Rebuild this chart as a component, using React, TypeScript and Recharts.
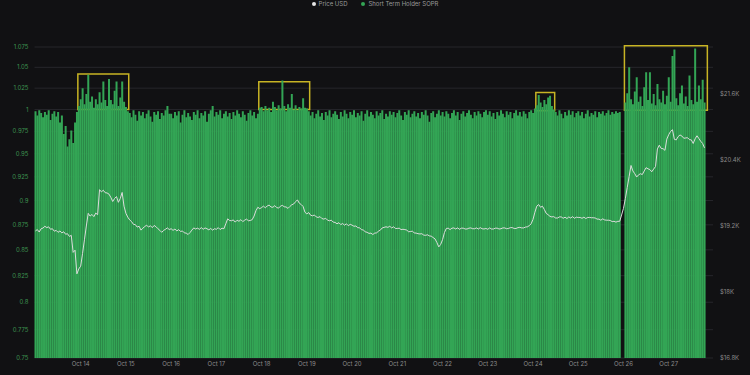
import React from 'react'
import {
  ComposedChart,
  Bar,
  Line,
  XAxis,
  YAxis,
  CartesianGrid,
  ReferenceArea,
} from 'recharts'

// hourly points starting Oct 13 00:00, the axis runs to Oct 28 00:00
const TOTAL_HOURS = 360

const dayTicks = [24, 48, 72, 96, 120, 144, 168, 192, 216, 240, 264, 288, 312, 336]
const dayLabels = [
  'Oct 14', 'Oct 15', 'Oct 16', 'Oct 17', 'Oct 18', 'Oct 19', 'Oct 20',
  'Oct 21', 'Oct 22', 'Oct 23', 'Oct 24', 'Oct 25', 'Oct 26', 'Oct 27',
]

const soprTicks = [0.75, 0.775, 0.8, 0.825, 0.85, 0.875, 0.9, 0.925, 0.95, 0.975, 1, 1.025, 1.05, 1.075]
const priceTicks = [16800, 18000, 19200, 20400, 21600]

// short term holder SOPR, one value per hour
const soprValues = [
  // Oct 13
  0.998, 0.993, 0.999, 0.996, 0.991, 0.997, 0.994, 0.999, 0.988, 0.995, 0.998, 0.992,
  0.997, 0.985, 0.993, 0.972, 0.981, 0.958, 0.966, 0.976, 0.962, 0.985, 0.997, 1.004,
  // Oct 14
  1.012, 1.025, 1.006, 1.018, 1.041, 1.009, 1.015, 1.002, 1.012, 1.006, 1.02, 1.008,
  1.033, 1.011, 1.004, 1.036, 1.011, 1.006, 1.022, 1.033, 1.004, 1.014, 1.033, 1.009,
  // Oct 15
  1.003, 0.998, 0.996, 0.991, 0.999, 0.994, 0.987, 0.998, 0.993, 0.997, 0.99, 0.995,
  0.999, 0.992, 0.986, 0.997, 0.994, 0.998, 0.989, 0.996, 0.993, 0.999, 1.004, 0.995,
  // Oct 16
  0.995, 0.99, 0.997, 0.993, 0.998, 0.985, 0.994, 0.999, 0.991, 0.996, 0.992, 0.988,
  0.997, 0.994, 0.999, 0.99, 0.996, 0.993, 0.998, 0.986, 0.995, 0.999, 1.004, 0.992,
  // Oct 17
  0.997, 0.994, 0.999, 0.99, 0.995, 0.998, 0.992, 0.996, 0.989, 0.997, 0.993, 0.999,
  0.995, 0.991, 0.998, 0.994, 0.987, 0.996, 0.999, 0.993, 0.997, 0.99, 0.995, 1.002,
  // Oct 18
  1.003, 0.998, 1.004, 0.999, 1.002, 0.997, 1.009, 1.003, 0.999, 1.005, 1.001, 1.034,
  1.004, 0.998, 1.006, 1.002, 1.018, 1.0, 1.005, 0.999, 1.003, 1.001, 1.013, 1.002,
  // Oct 19
  1.001, 0.998, 0.993, 0.997, 0.99, 0.995, 0.999, 0.992, 0.996, 0.988, 0.997, 0.993,
  0.999, 0.991, 0.995, 0.998, 0.994, 0.989, 0.997, 0.992, 0.999, 0.995, 0.99, 0.997,
  // Oct 20
  0.994, 0.999, 0.991, 0.996, 0.993, 0.998, 0.987, 0.995, 0.999, 0.992, 0.997, 0.994,
  0.99, 0.998, 0.993, 0.996, 0.999, 0.989, 0.995, 0.992, 0.998, 0.994, 0.997, 0.991,
  // Oct 21
  0.996, 0.999, 0.993, 0.988, 0.997, 0.994, 0.999, 0.991, 0.995, 0.998, 0.992, 0.996,
  0.99, 0.997, 0.994, 0.999, 0.993, 0.986, 0.996, 0.998, 0.991, 0.995, 0.999, 0.993,
  // Oct 22
  0.997, 0.992, 0.998, 0.995, 0.99, 0.996, 0.999, 0.993, 0.997, 0.988, 0.995, 0.998,
  0.992, 0.996, 0.999, 0.994, 0.99, 0.997, 0.993, 0.998, 0.995, 0.991, 0.997, 0.999,
  // Oct 23
  0.994, 0.998, 0.992, 0.996, 0.989, 0.997, 0.993, 0.999, 0.995, 0.991, 0.998, 0.994,
  0.997, 0.99, 0.996, 0.999, 0.993, 0.997, 0.992, 0.998, 0.995, 0.99, 0.997, 0.999,
  // Oct 24
  0.996, 1.001, 1.005, 1.017, 1.008, 1.003, 1.011, 1.006, 1.014, 1.016, 1.004, 1.0,
  0.997, 0.993, 0.999, 0.995, 0.99, 0.997, 0.993, 0.999, 0.994, 0.998, 0.991, 0.996,
  // Oct 25
  0.998, 0.993, 0.997, 0.99, 0.995, 0.999, 0.992, 0.996, 0.994, 0.998, 0.991, 0.997,
  0.995, 0.998, 0.993, 0.996, 0.999, 0.994, 0.997, 0.995, 0.998, 0.996, 0.997, null,
  // Oct 26
  null, 1.008, 1.019, 1.05, 1.012, 1.006, 1.021, 1.038, 1.009, 1.015, 1.004, 1.026,
  1.044, 1.011, 1.044, 1.007, 1.018, 1.005, 1.03, 1.012, 1.008, 1.022, 1.006, 1.016,
  // Oct 27
  1.038, 1.009, 1.064, 1.072, 1.013, 1.005, 1.019, 1.028, 1.007, 1.015, 1.004, 1.04,
  1.011, 1.006, 1.073, 1.009, 1.028, 1.012, 1.035, 1.008,
]

// BTC price in USD, one value per hour
const priceValues = [
  // Oct 13
  19110, 19135, 19090, 19150, 19162, 19195, 19170, 19185, 19140, 19150, 19105, 19120,
  19085, 19110, 19075, 19095, 19050, 19060, 19010, 19030, 18720, 18760, 18330, 18420,
  // Oct 14
  18470, 18700, 18950, 19200, 19430, 19380, 19410, 19370, 19435, 19405, 19860, 19820,
  19850, 19805, 19800, 19780, 19720, 19645, 19700, 19735, 19630, 19700, 19810, 19560,
  // Oct 15
  19430, 19360, 19310, 19280, 19230, 19225, 19180, 19195, 19125, 19160, 19190, 19215,
  19180, 19205, 19170, 19210, 19185, 19150, 19120, 19085, 19120, 19140, 19165, 19135,
  // Oct 16
  19150, 19120, 19145, 19110, 19135, 19100, 19110, 19075, 19070, 19045, 19080, 19125,
  19165, 19145, 19160, 19140, 19170, 19140, 19165, 19150, 19130, 19155, 19125, 19150,
  // Oct 17
  19140, 19170, 19135, 19160, 19150, 19240, 19330, 19300, 19295, 19310, 19270, 19305,
  19285, 19315, 19280, 19305, 19325, 19295, 19300, 19315, 19380, 19480, 19540, 19515,
  // Oct 18
  19535, 19560, 19530, 19565, 19580, 19545, 19540, 19570, 19535, 19525, 19560, 19575,
  19550, 19545, 19520, 19555, 19585, 19600, 19640, 19675, 19615, 19590, 19555, 19450,
  // Oct 19
  19420, 19445, 19395, 19385, 19400, 19365, 19355, 19370, 19335, 19325, 19340, 19305,
  19295, 19305, 19270, 19265, 19240, 19260, 19225, 19245, 19215, 19240, 19205, 19230,
  // Oct 20
  19215, 19195, 19200, 19170, 19165, 19135, 19125, 19095, 19085, 19065, 19070, 19045,
  19070, 19075, 19105, 19125, 19165, 19175, 19185, 19175, 19195, 19165, 19185, 19155,
  // Oct 21
  19155, 19160, 19135, 19140, 19135, 19125, 19095, 19100, 19105, 19075, 19070, 19060,
  19055, 19060, 19035, 19030, 19040, 19020, 19015, 18990, 18965, 18900, 18820, 18865,
  // Oct 22
  18950, 19080, 19155, 19160, 19135, 19160, 19165, 19145, 19165, 19140, 19160, 19160,
  19145, 19145, 19160, 19165, 19150, 19150, 19165, 19145, 19170, 19150, 19145, 19155,
  // Oct 23
  19140, 19165, 19145, 19145, 19160, 19160, 19145, 19150, 19165, 19165, 19150, 19155,
  19170, 19170, 19155, 19155, 19170, 19175, 19165, 19165, 19180, 19185, 19205, 19240,
  // Oct 24
  19320, 19450, 19560, 19590, 19540, 19560, 19500, 19430, 19405, 19375, 19365, 19370,
  19345, 19345, 19365, 19365, 19340, 19360, 19335, 19365, 19345, 19370, 19340, 19360,
  // Oct 25
  19355, 19355, 19340, 19360, 19335, 19355, 19355, 19350, 19350, 19345, 19325, 19325,
  19305, 19330, 19310, 19305, 19305, 19300, 19280, 19285, 19270, 19285, 19285, 19400,
  // Oct 26
  19520, 19700, 19900, 20100, 20300, 20200, 20150, 20090, 20130, 20150, 20135, 20200,
  20260, 20240, 20225, 20185, 20235, 20280, 20600, 20670, 20610, 20605, 20575, 20780,
  // Oct 27
  20860, 20920, 20950, 20775, 20765, 20825, 20855, 20835, 20795, 20800, 20805, 20770,
  20765, 20700, 20785, 20840, 20790, 20740, 20700, 20620,
]

// highlighted stretches: hour range and SOPR range
const highlightFrom = [23, 119, 266, 313]
const highlightTo = [49, 145, 275, 356]
const highlightLow = [1.0, 1.0, 0.9985, 0.999]
const highlightHigh = [1.042, 1.0325, 1.0197, 1.0766]

const chartData = Array.from({ length: TOTAL_HOURS }, (_, i) => ({
  hour: i,
  sopr: soprValues[i] ?? null,
  price: priceValues[i] ?? null,
}))

const FONT = 'Inter, "Liberation Sans", Arial, sans-serif'

export default function App() {
  return (
    <div
      style={{
        position: 'absolute',
        left: 0,
        top: 0,
        width: 750,
        height: 375,
        background: '#111113',
        fontFamily: FONT,
        overflow: 'hidden',
      }}
    >
      {/* legend */}
      <div
        style={{
          position: 'absolute',
          top: 0,
          left: 0,
          width: 750,
          display: 'flex',
          justifyContent: 'center',
          gap: 14,
          fontSize: 6,
          lineHeight: '7px',
          color: '#9a9a9a',
        }}
      >
        <span style={{ display: 'flex', alignItems: 'center', gap: 3 }}>
          <span style={{ width: 4, height: 4, borderRadius: 2, background: '#e6e6e6' }} />
          Price USD
        </span>
        <span style={{ display: 'flex', alignItems: 'center', gap: 3 }}>
          <span style={{ width: 4, height: 4, borderRadius: 2, background: '#33a555' }} />
          Short Term Holder SOPR
        </span>
      </div>

      <ComposedChart
        width={750}
        height={375}
        data={chartData}
        margin={{ top: 47, right: 0, bottom: 0, left: 0 }}
        barCategoryGap={0}
        barGap={0}
      >
        <CartesianGrid yAxisId="left" vertical={false} stroke="#26262b" />
        <XAxis
          dataKey="hour"
          type="category"
          ticks={dayTicks}
          interval={0}
          tickFormatter={(h: number) => dayLabels[dayTicks.indexOf(h)] ?? ''}
          axisLine={false}
          tickLine={false}
          tickSize={4}
          tickMargin={0}
          height={17}
          tick={{ fill: '#8b8b8b', fontSize: 6, fontFamily: FONT }}
        />
        <YAxis
          yAxisId="left"
          orientation="left"
          scale="log"
          domain={[0.75, 1.075]}
          allowDataOverflow
          ticks={soprTicks}
          interval={0}
          width={34.5}
          axisLine={false}
          tickLine={false}
          tickMargin={0}
          tick={{ fill: '#3d9150', fontSize: 6, fontFamily: FONT }}
        />
        <YAxis
          yAxisId="right"
          orientation="right"
          domain={[16800, 22454]}
          allowDataOverflow
          ticks={priceTicks}
          interval={0}
          width={37}
          axisLine={false}
          tickLine={false}
          tickMargin={1}
          tickFormatter={(v: number) => `$${v / 1000}K`}
          tick={{ fill: '#8b8b8b', fontSize: 6, fontFamily: FONT }}
        />
        <Bar
          yAxisId="left"
          dataKey="sopr"
          fill="#33a555"
          isAnimationActive={false}
        />
        <Line
          yAxisId="right"
          dataKey="price"
          type="linear"
          stroke="#dcdcdc"
          strokeWidth={1}
          dot={false}
          connectNulls
          isAnimationActive={false}
        />
        {highlightFrom.map((from, i) => (
          <ReferenceArea
            key={`box-${i}`}
            yAxisId="left"
            x1={from}
            x2={highlightTo[i]}
            y1={highlightLow[i]}
            y2={highlightHigh[i]}
            fill="none"
            fillOpacity={0}
            stroke="#c8b424"
            strokeWidth={1.5}
            ifOverflow="visible"
          />
        ))}
      </ComposedChart>
    </div>
  )
}
